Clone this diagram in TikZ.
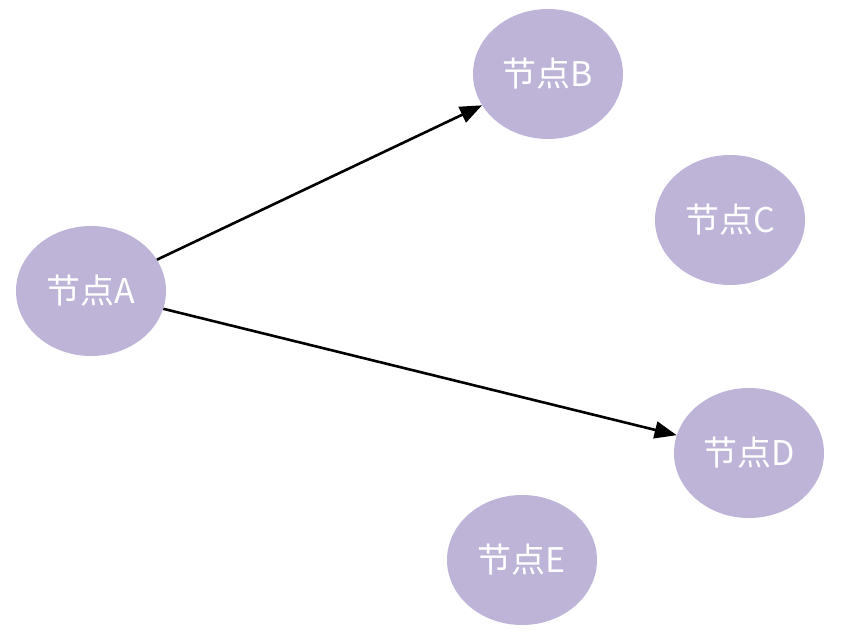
\documentclass[tikz,border=0pt]{standalone}
\usepackage{fontspec}
\newfontfamily\cjk{Noto Sans CJK SC}
\usetikzlibrary{shapes.geometric,arrows.meta}
\definecolor{nodefill}{HTML}{BDB4D8}
\tikzset{
  gnode/.style={ellipse, fill=nodefill, draw=none, minimum width=150pt, minimum height=130pt, inner sep=0pt,
    text=white, font=\cjk\fontsize{34pt}{38pt}\selectfont},
  link/.style={draw=black, line width=2.6pt, -{Triangle[length=22pt,width=17pt]}}
}
\begin{document}
\begin{tikzpicture}[x=1pt,y=-1pt]
\useasboundingbox[fill=white] (0,0) rectangle (847,640);
\node[gnode] (A) at (91,291) {节点A};
\node[gnode] (B) at (548,74) {节点B};
\node[gnode] (C) at (730,220) {节点C};
\node[gnode] (D) at (749,453) {节点D};
\node[gnode] (E) at (522,560) {节点E};
\draw[link] (A) -- (B);
\draw[link] (A) -- (D);
\end{tikzpicture}
\end{document}
